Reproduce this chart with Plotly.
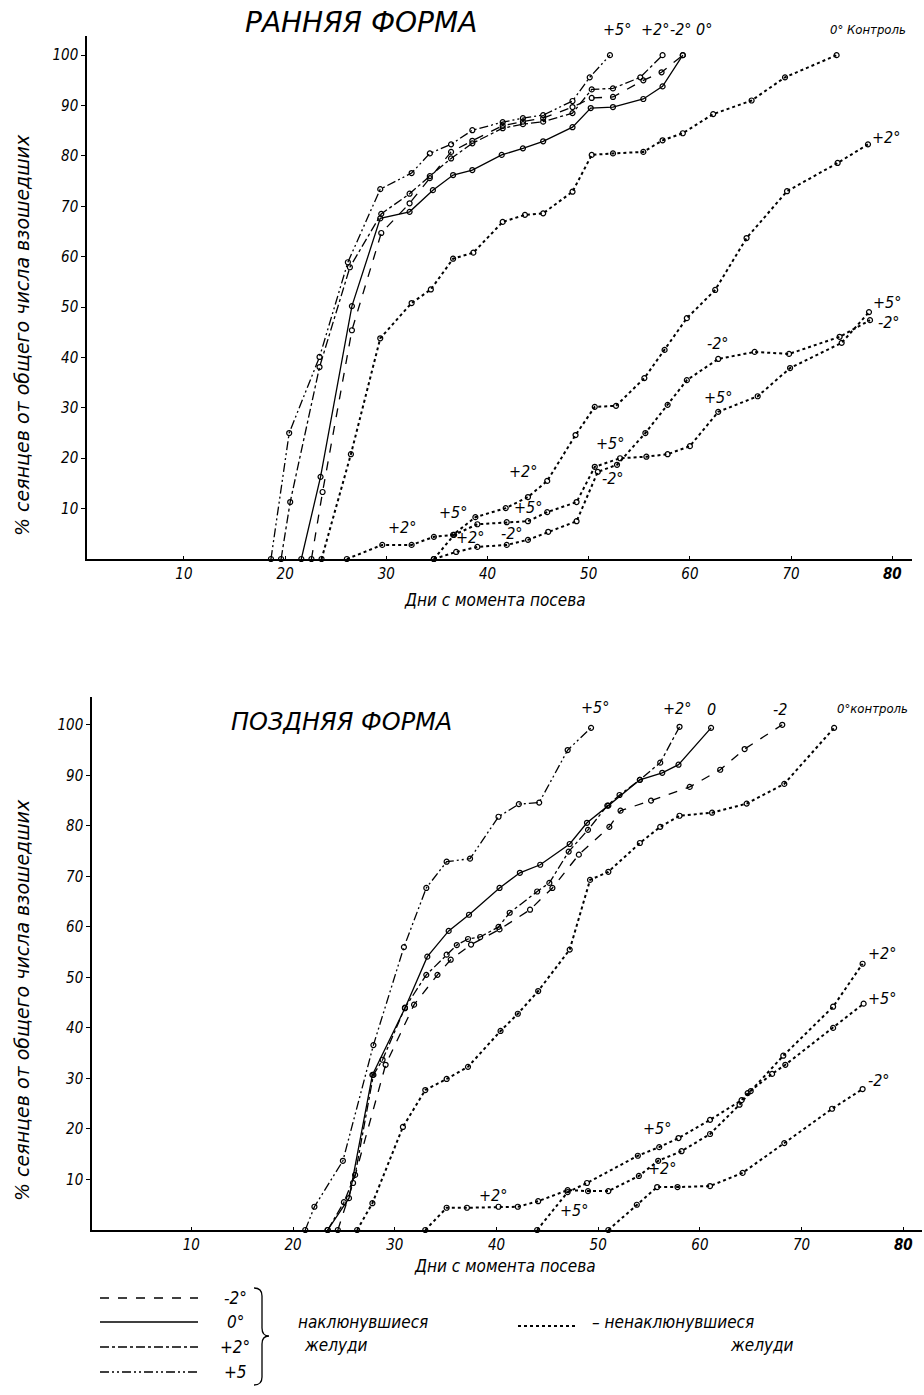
import plotly.graph_objects as go

# ---------------- Early form (РАННЯЯ ФОРМА) ----------------
# sprouted acorns
early_m2_x = [22.6, 23.7, 26.6, 29.5, 32.3, 34.3, 36.4, 38.5, 41.5, 43.5, 45.5, 48.4, 50.3, 52.4, 55.4, 57.2, 59.3]
early_m2_y = [0, 13.3, 45.4, 64.7, 70.6, 75.6, 80.8, 83.0, 86.0, 86.8, 87.5, 89.7, 91.5, 91.7, 95.0, 96.6, 100]
early_0_x = [21.6, 23.5, 26.6, 29.4, 32.3, 34.6, 36.6, 38.5, 41.4, 43.5, 45.5, 48.4, 50.2, 52.4, 55.4, 57.3, 59.3]
early_0_y = [0, 16.3, 50.2, 67.6, 68.9, 73.2, 76.2, 77.2, 80.2, 81.5, 82.9, 85.7, 89.5, 89.7, 91.3, 93.8, 100]
early_p2_x = [19.6, 20.5, 23.4, 26.4, 29.5, 32.3, 34.3, 36.4, 38.5, 41.5, 43.5, 45.5, 48.4, 50.3, 52.4, 55.1, 57.3]
early_p2_y = [0, 11.3, 38.1, 57.9, 68.5, 72.5, 76.0, 79.5, 82.5, 85.5, 86.3, 86.8, 88.5, 93.2, 93.4, 95.6, 100]
early_p5_x = [18.6, 20.4, 23.4, 26.2, 29.4, 32.5, 34.3, 36.4, 38.5, 41.5, 43.5, 45.5, 48.4, 50.1, 52.1]
early_p5_y = [0, 25.0, 40.1, 58.9, 73.4, 76.6, 80.5, 82.3, 85.1, 86.7, 87.5, 88.1, 90.9, 95.6, 100]
# non-sprouted acorns
early_ctrl_x = [23.6, 26.5, 29.4, 32.5, 34.4, 36.6, 38.6, 41.5, 43.7, 45.5, 48.4, 50.3, 52.4, 55.4, 57.3, 59.3, 62.3, 66.1, 69.4, 74.5]
early_ctrl_y = [0, 20.8, 43.8, 50.8, 53.5, 59.6, 60.8, 66.9, 68.3, 68.6, 72.9, 80.2, 80.5, 80.8, 83.1, 84.5, 88.3, 91.0, 95.6, 100]
early_np2_x = [26.1, 29.6, 32.5, 34.7, 36.6, 38.8, 41.8, 44.0, 45.9, 48.7, 50.6, 52.7, 55.5, 57.5, 59.7, 62.5, 65.6, 69.6, 74.6, 77.6]
early_np2_y = [0, 2.8, 2.8, 4.4, 4.8, 8.3, 10.1, 12.3, 15.5, 24.6, 30.2, 30.4, 35.9, 41.5, 47.8, 53.4, 63.7, 73.0, 78.6, 82.3]
early_np5_x = [34.7, 36.7, 39.0, 41.9, 44.0, 45.9, 48.8, 50.6, 53.1, 55.7, 57.8, 60.0, 62.8, 66.7, 69.9, 75.0, 77.7]
early_np5_y = [0, 4.8, 6.9, 7.3, 7.5, 9.3, 11.3, 18.3, 20.0, 20.3, 20.8, 22.4, 29.2, 32.3, 37.9, 42.9, 49.0]
early_nm2_x = [34.7, 36.9, 39.0, 41.9, 44.0, 46.0, 48.8, 50.9, 52.8, 55.6, 57.8, 59.7, 62.8, 66.4, 69.8, 74.8, 77.8]
early_nm2_y = [0, 1.4, 2.4, 2.8, 3.8, 5.4, 7.5, 17.3, 18.7, 25.0, 30.6, 35.5, 39.7, 41.1, 40.7, 44.1, 47.4]

# ---------------- Late form (ПОЗДНЯЯ ФОРМА) ----------------
late_m2_x = [24.4, 25.9, 29.1, 31.9, 34.2, 35.5, 37.5, 40.3, 43.3, 45.5, 48.1, 51.1, 52.2, 55.2, 59.0, 62.0, 64.4, 68.1]
late_m2_y = [0, 9.3, 32.7, 44.6, 50.5, 53.5, 56.5, 59.5, 63.4, 67.7, 74.3, 79.8, 83.0, 85.0, 87.7, 91.1, 95.2, 100]
late_0_x = [23.4, 25.5, 27.8, 31.0, 33.2, 35.3, 37.3, 40.3, 42.3, 44.3, 47.2, 48.9, 51.0, 54.1, 56.3, 57.9, 61.1]
late_0_y = [0, 6.3, 30.7, 43.9, 54.1, 59.2, 62.4, 67.7, 70.7, 72.3, 76.4, 80.6, 84.0, 89.1, 90.5, 92.1, 99.4]
late_p2_x = [23.4, 25.0, 26.1, 27.9, 28.8, 31.0, 33.1, 35.1, 36.1, 37.2, 38.4, 40.2, 41.3, 44.0, 45.2, 47.1, 49.0, 50.9, 52.1, 54.1, 56.1, 58.0]
late_p2_y = [0, 5.5, 10.9, 30.7, 33.7, 44.0, 50.5, 54.5, 56.4, 57.6, 58.0, 60.0, 62.8, 67.0, 68.7, 74.9, 79.2, 84.0, 86.1, 89.1, 92.5, 99.6]
late_p5_x = [21.2, 22.1, 24.9, 27.9, 30.9, 33.1, 35.1, 37.4, 40.2, 42.2, 44.2, 47.0, 49.3]
late_p5_y = [0, 4.6, 13.7, 36.6, 56.0, 67.7, 72.9, 73.5, 81.8, 84.3, 84.6, 95.0, 99.4]
late_ctrl_x = [26.3, 27.8, 30.8, 33.0, 35.1, 37.2, 40.4, 42.1, 44.1, 47.2, 49.2, 51.0, 54.1, 56.1, 58.0, 61.2, 64.6, 68.3, 73.2]
late_ctrl_y = [0, 5.3, 20.4, 27.7, 29.9, 32.3, 39.4, 42.8, 47.3, 55.5, 69.3, 70.9, 76.6, 79.8, 82.0, 82.6, 84.4, 88.3, 99.4]
late_np2_x = [33.0, 35.1, 37.1, 40.2, 42.1, 44.1, 47.0, 49.0, 51.0, 54.0, 55.9, 58.2, 61.0, 63.9, 65.0, 68.2, 73.1, 76.0]
late_np2_y = [0, 4.4, 4.4, 4.6, 4.6, 5.7, 7.9, 7.7, 7.7, 10.7, 13.7, 15.6, 19.0, 24.8, 27.5, 34.5, 44.2, 52.7]
late_np5_x = [44.0, 47.0, 48.9, 53.9, 56.0, 57.9, 61.0, 64.1, 64.7, 67.1, 68.4, 73.1, 76.1]
late_np5_y = [0, 7.5, 9.3, 14.7, 16.4, 18.2, 21.8, 25.7, 27.1, 30.9, 32.7, 40.0, 44.8]
late_nm2_x = [51.0, 53.8, 55.8, 57.8, 61.0, 64.2, 68.3, 73.0, 76.0]
late_nm2_y = [0, 5.0, 8.5, 8.5, 8.7, 11.3, 17.2, 24.0, 27.9]

x_ticks = [10, 20, 30, 40, 50, 60, 70, 80]
x_ticktext = ["10", "20", "30", "40", "50", "60", "70", "<b>80</b>"]
y_ticks = [10, 20, 30, 40, 50, 60, 70, 80, 90, 100]

W, H = 924, 1395


def fx(p):
    return p / W


def fy(p):
    return 1 - p / H


FONT = "DejaVu Sans Condensed"
WIDE = "DejaVu Sans"
DASH_STYLES = {
    "m2": "dash",
    "0": "solid",
    "p2": "dashdot",
    "p5": "9px,3px,2px,3px,2px,3px",
    "dot": "dot",
}

fig = go.Figure()


def add_curve(x, y, style, axis):
    xa, ya = axis
    dotted = style == "dot"
    fig.add_trace(go.Scatter(
        x=x, y=y, mode="lines+markers", xaxis=xa, yaxis=ya,
        line=dict(color="black", width=2.0 if dotted else 1.3, dash=DASH_STYLES[style]),
        marker=dict(symbol="circle-open", size=5, color="black", line=dict(width=1.2)),
        cliponaxis=False, showlegend=False, hoverinfo="skip",
    ))


top = ("x", "y")
bot = ("x2", "y2")
add_curve(early_ctrl_x, early_ctrl_y, "dot", top)
add_curve(early_np2_x, early_np2_y, "dot", top)
add_curve(early_np5_x, early_np5_y, "dot", top)
add_curve(early_nm2_x, early_nm2_y, "dot", top)
add_curve(early_m2_x, early_m2_y, "m2", top)
add_curve(early_0_x, early_0_y, "0", top)
add_curve(early_p2_x, early_p2_y, "p2", top)
add_curve(early_p5_x, early_p5_y, "p5", top)

add_curve(late_ctrl_x, late_ctrl_y, "dot", bot)
add_curve(late_np2_x, late_np2_y, "dot", bot)
add_curve(late_np5_x, late_np5_y, "dot", bot)
add_curve(late_nm2_x, late_nm2_y, "dot", bot)
add_curve(late_m2_x, late_m2_y, "m2", bot)
add_curve(late_0_x, late_0_y, "0", bot)
add_curve(late_p2_x, late_p2_y, "p2", bot)
add_curve(late_p5_x, late_p5_y, "p5", bot)

tickfont = dict(family=FONT, size=15, color="black", style="italic")
xcommon = dict(showline=True, linecolor="black", linewidth=1.5, showgrid=False, zeroline=False,
               tickvals=x_ticks, ticktext=x_ticktext, ticks="inside", ticklen=3,
               tickcolor="black", tickfont=tickfont)
ycommon = dict(showline=True, linecolor="black", linewidth=1.5, showgrid=False, zeroline=False,
               tickvals=y_ticks, ticks="outside", ticklen=4, tickcolor="black",
               tickfont=tickfont)

fig.update_layout(
    width=W, height=H, margin=dict(l=0, r=0, t=0, b=0),
    paper_bgcolor="white", plot_bgcolor="white",
    xaxis=dict(domain=[fx(87), fx(912)], range=[0.42, 81.95], anchor="y", **xcommon),
    yaxis=dict(domain=[fy(559), fy(36)], range=[0, 103.8], anchor="x", **ycommon),
    xaxis2=dict(domain=[fx(92), fx(922)], range=[0.23, 81.84], anchor="y2", **xcommon),
    yaxis2=dict(domain=[fy(1230), fy(697)], range=[0, 105.5], anchor="x2", **ycommon),
)


def label(text, x, y, size=15, angle=0, family=FONT, style="italic", anchor="center", weight=None):
    font = dict(family=family, size=size, color="black", style=style)
    if weight is not None:
        font["weight"] = weight
    fig.add_annotation(text=text, x=fx(x), y=fy(y), xref="paper", yref="paper",
                       showarrow=False, textangle=angle, xanchor=anchor, yanchor="middle",
                       font=font)


# titles
label("РАННЯЯ ФОРМА", 361, 22, size=28, family=WIDE, weight=300)
label("ПОЗДНЯЯ ФОРМА", 341, 722, size=24, family=WIDE, weight=300)
# axis titles
label("% сеянцев от общего числа взошедших", 22, 335, size=19, angle=-90, family=WIDE)
label("% сеянцев от общего числа взошедших", 22, 1000, size=19, angle=-90, family=WIDE)
label("Дни с момента посева", 495, 600, size=17)
label("Дни с момента посева", 505, 1266, size=17)

# curve labels, early form
for t, x, y in [("+5°", 617, 30), ("+2°", 655, 30), ("-2°", 681, 30), ("0°", 704, 30),
                ("+2°", 886, 137), ("+5°", 887, 302), ("-2°", 889, 322),
                ("-2°", 718, 343), ("+5°", 718, 397), ("+5°", 610, 443), ("-2°", 613, 478),
                ("+2°", 402, 528), ("+5°", 453, 513), ("+2°", 470, 537),
                ("+2°", 523, 472), ("+5°", 528, 507), ("-2°", 512, 533)]:
    label(t, x, y, size=16)
label("0° Контроль", 868, 30, size=13)

# curve labels, late form
for t, x, y in [("+5°", 595, 707), ("+2°", 677, 708), ("0", 711, 709), ("-2", 780, 709),
                ("+2°", 882, 953), ("+5°", 882, 998), ("-2°", 879, 1080),
                ("+5°", 657, 1128), ("+2°", 662, 1168), ("+2°", 493, 1195), ("+5°", 574, 1210)]:
    label(t, x, y, size=16)
label("0°контроль", 872, 708, size=13)

# legend key
for dash, yy, t in [("dash", 1298, "-2°"), ("solid", 1322, "0°"),
                    ("dashdot", 1347, "+2°"), ("9px,3px,2px,3px,2px,3px", 1372, "+5")]:
    fig.add_shape(type="line", xref="paper", yref="paper", x0=fx(100), x1=fx(198),
                  y0=fy(yy), y1=fy(yy), line=dict(color="black", width=1.3, dash=dash))
    label(t, 235, yy, size=17)

path = "M {:.5f},{:.5f} Q {:.5f},{:.5f} {:.5f},{:.5f} L {:.5f},{:.5f} Q {:.5f},{:.5f} {:.5f},{:.5f} " \
       "Q {:.5f},{:.5f} {:.5f},{:.5f} L {:.5f},{:.5f} Q {:.5f},{:.5f} {:.5f},{:.5f}".format(
           fx(254), fy(1288), fx(262), fy(1288), fx(262), fy(1296),
           fx(262), fy(1328), fx(262), fy(1336), fx(269), fy(1336),
           fx(262), fy(1336), fx(262), fy(1344), fx(262), fy(1377),
           fx(262), fy(1385), fx(254), fy(1385))
fig.add_shape(type="path", xref="paper", yref="paper", path=path,
              line=dict(color="black", width=1.3))

label("наклюнувшиеся", 296, 1322, size=17, anchor="left")
label("желуди", 302, 1345, size=17, anchor="left")
fig.add_shape(type="line", xref="paper", yref="paper", x0=fx(518), x1=fx(578),
              y0=fy(1326), y1=fy(1326), line=dict(color="black", width=2, dash="dot"))
label("– ненаклюнувшиеся", 590, 1322, size=17, anchor="left")
label("желуди", 728, 1345, size=17, anchor="left")

fig.write_html("out.html")
